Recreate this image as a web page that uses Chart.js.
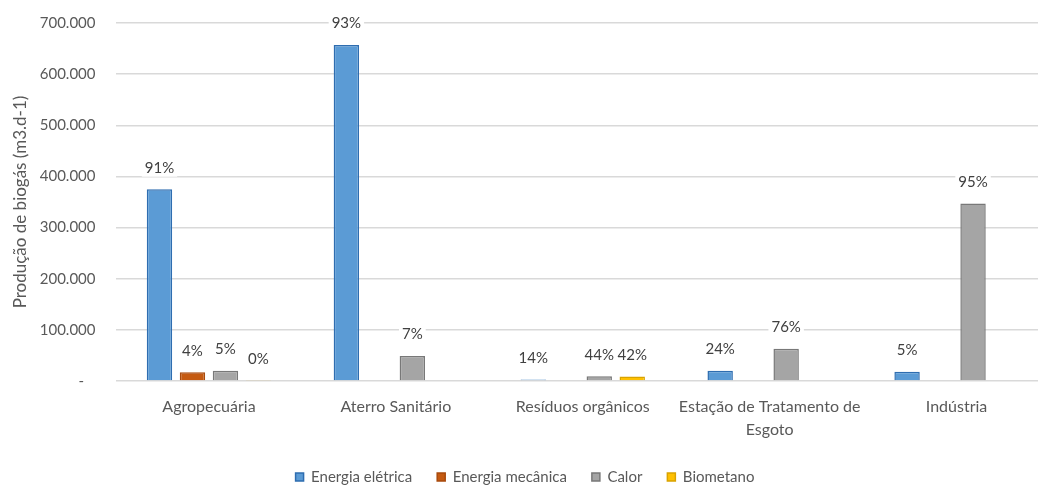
<!DOCTYPE html>
<html lang="pt-BR">
<head>
<meta charset="utf-8">
<title>Produção de biogás por setor e uso final</title>
<script src="https://cdn.jsdelivr.net/npm/chart.js@4.4.1/dist/chart.umd.min.js"></script>
<style>
  html, body { margin: 0; padding: 0; background: #ffffff; overflow: hidden; }
  #wrap { width: 1052px; height: 485px; position: relative; }
</style>
</head>
<body>
<div id="wrap"><canvas id="chart"></canvas></div>
<script>
// Setores de origem do biogás
const categories = [
  'Agropecuária',
  'Aterro Sanitário',
  'Resíduos orgânicos',
  ['Estação de Tratamento de', 'Esgoto'],
  'Indústria'
];

// Produção de biogás (m3.d-1) por uso final
const energiaEletrica = [375000, 657000, 3000, 20000, 18000];
const energiaMecanica = [17000, null, null, null, null];
const calor           = [20000, 49000, 9400, 63000, 347000];
const biometano       = [1000, null, 9000, null, null];

const seriesNames = ['Energia elétrica', 'Energia mecânica', 'Calor', 'Biometano'];

// Eixo vertical
const yTicks = [0, 100000, 200000, 300000, 400000, 500000, 600000, 700000];

const FONT = 'Lato, "Open Sans", "Liberation Sans", sans-serif';
const TEXT = '#595959';

// Percentual de cada uso dentro do total do setor, escrito acima da barra
const shareLabels = {
  id: 'shareLabels',
  afterDatasetsDraw(chart) {
    const ctx = chart.ctx;
    const sets = chart.data.datasets;
    ctx.save();
    ctx.font = '15px ' + FONT;
    ctx.textAlign = 'center';
    ctx.textBaseline = 'middle';
    sets.forEach((ds, di) => {
      const meta = chart.getDatasetMeta(di);
      meta.data.forEach((bar, i) => {
        const v = ds.data[i];
        if (v === null || v === undefined) return;
        const total = sets.reduce((s, d) => s + (d.data[i] || 0), 0);
        const txt = Math.round(v / total * 100) + '%';
        const y = bar.y - 21.5;
        const w = ctx.measureText(txt).width;
        ctx.fillStyle = '#ffffff';
        ctx.fillRect(bar.x - w / 2 - 3, y - 9, w + 6, 18);
        ctx.fillStyle = '#404040';
        ctx.fillText(txt, bar.x, y);
      });
    });
    ctx.restore();
  }
};

const whiteBg = {
  id: 'whiteBg',
  beforeDraw(chart) {
    const ctx = chart.ctx;
    ctx.save();
    ctx.fillStyle = '#ffffff';
    ctx.fillRect(0, 0, chart.width, chart.height);
    ctx.restore();
  }
};

const barStyle = (fill, border) => ({
  backgroundColor: fill,
  borderColor: border,
  borderWidth: 1.5,
  categoryPercentage: 0.706,
  barPercentage: 0.77
});

new Chart(document.getElementById('chart'), {
  type: 'bar',
  data: {
    labels: categories,
    datasets: [
      Object.assign({ label: seriesNames[0], data: energiaEletrica }, barStyle('#5B9BD5', '#2E6DB0')),
      Object.assign({ label: seriesNames[1], data: energiaMecanica }, barStyle('#C55A11', '#A84A0C')),
      Object.assign({ label: seriesNames[2], data: calor }, barStyle('#A5A5A5', '#787878')),
      Object.assign({ label: seriesNames[3], data: biometano }, barStyle('#FFC000', '#D9A300'))
    ]
  },
  options: {
    responsive: true,
    maintainAspectRatio: false,
    animation: false,
    layout: { padding: { top: 23, right: 2, bottom: -9.5, left: 0 } },
    scales: {
      x: {
        grid: { display: false, drawTicks: false },
        border: { display: false },
        ticks: {
          color: TEXT,
          font: { family: FONT, size: 16, lineHeight: 1.4 },
          padding: 15,
          maxRotation: 0,
          autoSkip: false
        },
        afterFit(scale) {
          scale.height = 63.5;
          scale.paddingLeft = 0;
          scale.paddingRight = 0;
        }
      },
      y: {
        min: 0,
        max: 700000,
        afterBuildTicks(scale) { scale.ticks = yTicks.map(v => ({ value: v })); },
        grid: { color: '#D9D9D9', lineWidth: 1.5, drawTicks: false },
        border: { display: false },
        ticks: {
          color: TEXT,
          font: { family: FONT, size: 15 },
          padding: 20,
          callback(v) {
            return v === 0 ? '-   ' : v.toLocaleString('pt-BR');
          }
        },
        title: {
          display: true,
          text: 'Produção de biogás (m3.d-1)',
          color: TEXT,
          font: { family: FONT, size: 17 },
          padding: { top: 10, bottom: 0 }
        },
        afterFit(scale) {
          scale.width = 115.5;
          scale.paddingTop = 0;
          scale.paddingBottom = 0;
        }
      }
    },
    plugins: {
      legend: {
        position: 'bottom',
        labels: {
          color: TEXT,
          font: { family: FONT, size: 15 },
          boxWidth: 8,
          boxHeight: 8,
          padding: 25
        }
      },
      tooltip: { enabled: false }
    }
  },
  plugins: [whiteBg, shareLabels]
});
</script>
</body>
</html>
